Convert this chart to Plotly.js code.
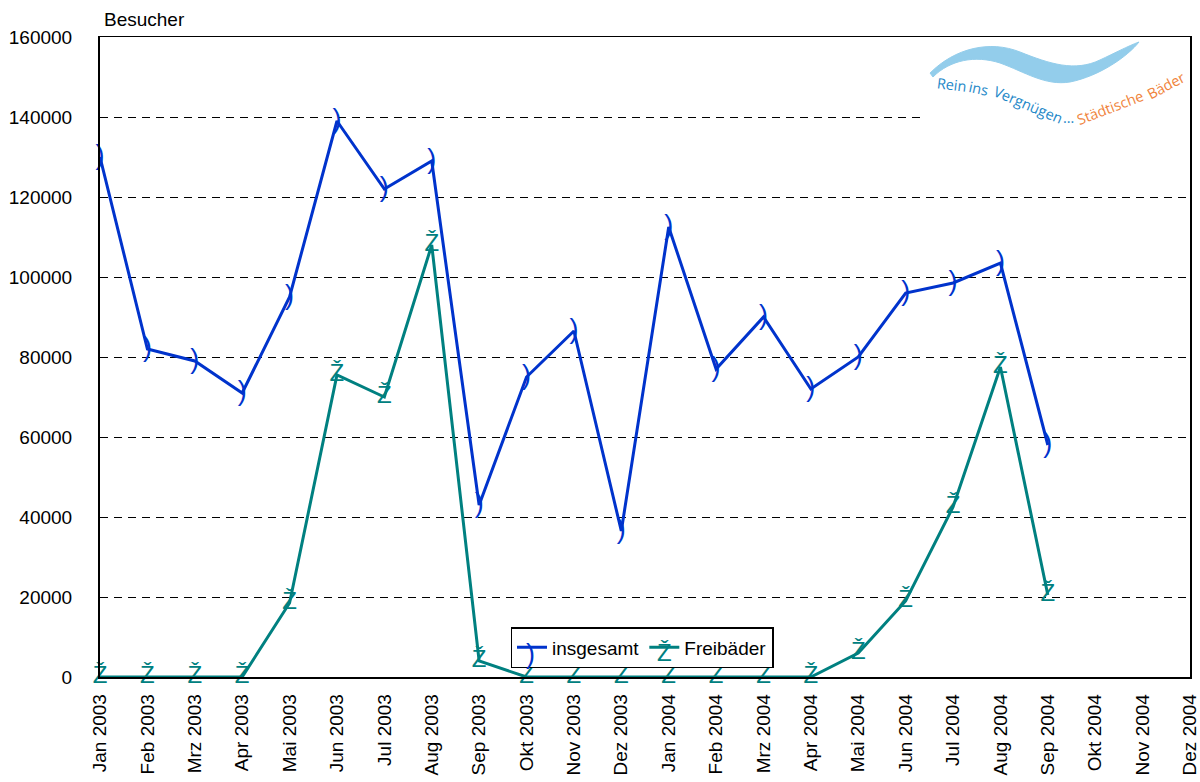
<!DOCTYPE html>
<html>
<head>
<meta charset="utf-8">
<script src="https://cdn.plot.ly/plotly-3.0.1.min.js"></script>
<style>html,body{margin:0;padding:0;background:#fff;}#chart{width:1200px;height:782px;}</style>
</head>
<body>
<div id="chart"></div>
<script>
const months = ["Jan 2003","Feb 2003","Mrz 2003","Apr 2003","Mai 2003","Jun 2003","Jul 2003","Aug 2003","Sep 2003","Okt 2003","Nov 2003","Dez 2003",
                "Jan 2004","Feb 2004","Mrz 2004","Apr 2004","Mai 2004","Jun 2004","Jul 2004","Aug 2004","Sep 2004","Okt 2004","Nov 2004","Dez 2004"];
const insgesamt = [130000, 82000, 79000, 71000, 95000, 139000, 122000, 129000, 43000, 75000, 86500, 36500,
                   112500, 77000, 90000, 72000, 80000, 96000, 98500, 103500, 58000, null, null, null];
const freibaeder = [0, 0, 0, 0, 18500, 75500, 70000, 108000, 4000, 0, 0, 0,
                    0, 0, 0, 0, 6000, 19000, 42500, 77500, 20500, null, null, null];
const yTicks = [0, 20000, 40000, 60000, 80000, 100000, 120000, 140000, 160000];
const markerGlyphs = {insgesamt: ")", freibaeder: "Ž"};
const logoWords = [
  {t: "Rein", c: "#1E88C8"}, {t: "ins", c: "#1E88C8"}, {t: "Vergnügen", c: "#1E88C8"},
  {t: "…", c: "#1E88C8"}, {t: "Städtische", c: "#F0843C"}, {t: "Bäder", c: "#F0843C"}
];

const L = 100, R = 1190, T = 37, B = 677;
const px = x => (x - L) / (R - L);
const py = y => (B - y) / (B - T);

const FONT = "Liberation Sans, Arial, sans-serif";
const BLUE = "#0033CC", TEAL = "#008080";

const traces = [
  {
    x: months, y: insgesamt, name: "insgesamt", type: "scatter", mode: "lines+text",
    text: insgesamt.map(v => v === null ? "" : markerGlyphs.insgesamt), textposition: "middle center",
    textfont: {family: FONT, size: 27, color: BLUE},
    line: {color: BLUE, width: 3}, connectgaps: false, cliponaxis: false
  },
  {
    x: months, y: freibaeder, name: "Freibäder", type: "scatter", mode: "lines+text",
    text: freibaeder.map(v => v === null ? "" : markerGlyphs.freibaeder), textposition: "middle center",
    textfont: {family: FONT, size: 24, color: TEAL},
    line: {color: TEAL, width: 3}, connectgaps: false, cliponaxis: false
  }
];

// Logo wave (pixel coordinates converted to paper)
const P = (x, y) => px(x).toFixed(4) + "," + py(y).toFixed(4);
const wavePath = "M " + P(930,73) +
  " C " + P(955,48) + " " + P(990,40) + " " + P(1020,52) +
  " C " + P(1050,64) + " " + P(1075,72) + " " + P(1100,60) +
  " C " + P(1115,53) + " " + P(1128,46) + " " + P(1139,42) +
  " C " + P(1128,56) + " " + P(1100,76) + " " + P(1070,82) +
  " C " + P(1045,86) + " " + P(1025,72) + " " + P(1000,63) +
  " C " + P(975,55) + " " + P(950,60) + " " + P(933,77) + " Z";

const logoPos = [[952,84,7],[979,88,12],[1028,104,23],[1068,117,0],[1110,107,-21],[1166,86,-28]];
const logoAnn = logoWords.map((w, i) => ({
  text: w.t, xref: "paper", yref: "paper", x: px(logoPos[i][0]), y: py(logoPos[i][1]),
  xanchor: "center", yanchor: "middle", showarrow: false, textangle: logoPos[i][2],
  font: {family: "Open Sans, sans-serif", size: 14.5, color: w.c}
}));

const layout = {
  width: 1200, height: 782,
  margin: {l: L, r: 1200 - R, t: T, b: 782 - B, pad: 0},
  paper_bgcolor: "#fff", plot_bgcolor: "#fff",
  font: {family: FONT, size: 19, color: "#000"},
  showlegend: true,
  legend: {
    orientation: "h", x: px(642), xanchor: "center", y: py(668), yanchor: "bottom",
    bgcolor: "#fff", bordercolor: "#000", borderwidth: 1.5,
    font: {family: FONT, size: 19, color: "#000"}, itemwidth: 30, tracegroupgap: 0
  },
  xaxis: {
    type: "category", categoryorder: "array", categoryarray: months,
    range: [0, months.length - 1], tickangle: -90, ticks: "", showgrid: false,
    showline: true, linecolor: "#000", linewidth: 1.5, mirror: true,
    tickfont: {family: FONT, size: 19, color: "#000"}, ticklabelstandoff: 8,
    zeroline: false, fixedrange: true
  },
  yaxis: {
    range: [0, 160000], tickvals: yTicks, ticktext: yTicks.map(String), ticks: "",
    showgrid: true, gridcolor: "#000", gridwidth: 1, griddash: "8px,6px",
    showline: true, linecolor: "#000", linewidth: 2, mirror: true,
    tickfont: {family: FONT, size: 19, color: "#000"}, ticklabelstandoff: 22,
    zeroline: false, fixedrange: true
  },
  shapes: [
    {type: "rect", xref: "paper", yref: "paper", x0: px(925), x1: px(1189), y0: py(130), y1: py(39),
     fillcolor: "#fff", line: {width: 0}, layer: "above"},
    {type: "path", xref: "paper", yref: "paper", path: wavePath, fillcolor: "#93CDEB",
     line: {color: "#93CDEB", width: 1}, layer: "above"}
  ],
  annotations: [
    {text: "Besucher", xref: "paper", yref: "paper", x: px(102), y: py(19), xanchor: "left", yanchor: "middle",
     showarrow: false, font: {family: FONT, size: 19, color: "#000"}},
    // marker glyphs drawn on the legend's line symbols
    {text: markerGlyphs.insgesamt, xref: "paper", yref: "paper", x: px(530), y: py(654), xanchor: "center", yanchor: "middle",
     showarrow: false, font: {family: FONT, size: 27, color: BLUE}},
    {text: markerGlyphs.freibaeder, xref: "paper", yref: "paper", x: px(664), y: py(652), xanchor: "center", yanchor: "middle",
     showarrow: false, font: {family: FONT, size: 24, color: TEAL}}
  ].concat(logoAnn)
};

Plotly.newPlot("chart", traces, layout, {displayModeBar: false, staticPlot: true});
</script>
</body>
</html>
